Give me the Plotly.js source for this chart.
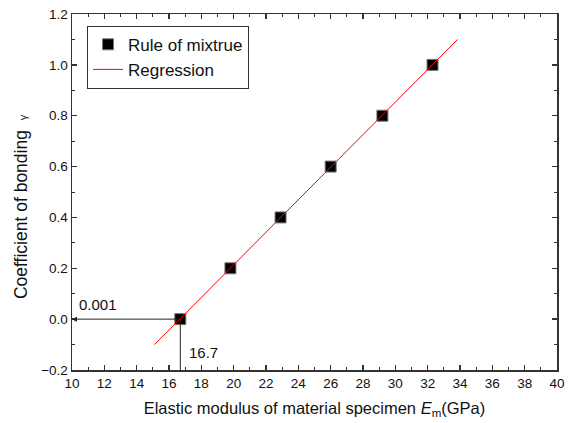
<!DOCTYPE html>
<html><head><meta charset="utf-8">
<script src="https://cdn.plot.ly/plotly-3.0.1.min.js"></script>
<style>html,body{margin:0;padding:0;background:#fff}</style>
</head><body>
<div id="chart" style="width:571px;height:423px"></div>
<script>
const modulusE = [16.7, 19.8, 22.9, 26.0, 29.2, 32.3];
const bondingCoef = [0.0, 0.2, 0.4, 0.6, 0.8, 1.0];
const regressionX = [15.1, 33.85];
const regressionY = [-0.1, 1.1];
const interceptX = 16.7;
const interceptY = 0.001;

const axisCol = '#333';
const FAM = 'Liberation Sans, Arial, sans-serif';
const tickFnt = {family: FAM, size: 13.5, color: '#111'};

const traces = [
  {x: modulusE, y: bondingCoef, mode: 'markers', name: 'Rule of mixtrue',
   marker: {symbol: 'square', size: 11, color: '#000', line: {color: '#777', width: 1}}},
  {x: regressionX, y: regressionY, mode: 'lines', name: 'Regression',
   line: {color: '#ff0000', width: 1}}
];

const layout = {
  width: 571, height: 423,
  margin: {l: 72, r: 14, t: 14, b: 53},
  paper_bgcolor: '#fff', plot_bgcolor: '#fff',
  font: tickFnt,
  showlegend: true,
  legend: {x: 0.031, y: 0.967, xanchor: 'left', yanchor: 'top',
    bordercolor: '#333', borderwidth: 1, bgcolor: '#fff',
    font: {family: FAM, size: 17, color: '#111'},
    tracegroupgap: 0, itemwidth: 30},
  xaxis: {range: [10, 40], dtick: 2, tick0: 10, ticks: 'inside', ticklen: 5, tickwidth: 1.5,
    tickcolor: axisCol, showline: true, linecolor: axisCol, linewidth: 1.5, mirror: 'allticks',
    showgrid: false, zeroline: false, tickfont: tickFnt,
    minor: {dtick: 1, ticks: 'inside', ticklen: 3, tickwidth: 1, tickcolor: axisCol},
    title: {text: 'Elastic modulus of material specimen <i>E</i><sub>m</sub>(GPa)',
      font: {family: FAM, size: 16.5, color: '#111'}, standoff: 12}},
  yaxis: {range: [-0.2, 1.2], dtick: 0.2, tick0: 0, tickformat: '.1f', ticks: 'inside', ticklen: 5, tickwidth: 1.5,
    tickcolor: axisCol, showline: true, linecolor: axisCol, linewidth: 1.5, mirror: 'allticks',
    showgrid: false, zeroline: false, tickfont: tickFnt,
    minor: {dtick: 0.1, ticks: 'inside', ticklen: 3, tickwidth: 1, tickcolor: axisCol}},
  shapes: [
    {type: 'line', xref: 'x', yref: 'y', x0: interceptX, y0: 0, x1: interceptX, y1: -0.2,
     line: {color: '#222', width: 1}}
  ],
  annotations: [
    {xref: 'paper', yref: 'paper', x: -0.105, y: 0.458, textangle: -90, showarrow: false,
     xanchor: 'center', yanchor: 'middle',
     text: 'Coefficient of bonding  <span style="font-size:11px">γ</span>',
     font: {family: FAM, size: 17.5, color: '#111'}},
    {xref: 'x', yref: 'y', axref: 'x', ayref: 'y', x: 10, y: 0, ax: interceptX, ay: 0,
     text: '', showarrow: true, arrowhead: 2, arrowsize: 1, arrowwidth: 1, arrowcolor: '#222'},
    {xref: 'x', yref: 'y', x: 10.3, y: 0.018, text: String(interceptY), showarrow: false,
     xanchor: 'left', yanchor: 'bottom', font: {family: FAM, size: 15, color: '#111'}},
    {xref: 'x', yref: 'y', x: 17.1, y: -0.13, text: String(interceptX), showarrow: false,
     xanchor: 'left', yanchor: 'middle', font: {family: FAM, size: 15, color: '#111'}}
  ]
};

Plotly.newPlot('chart', traces, layout, {displayModeBar: false, staticPlot: true});
</script>
</body></html>
